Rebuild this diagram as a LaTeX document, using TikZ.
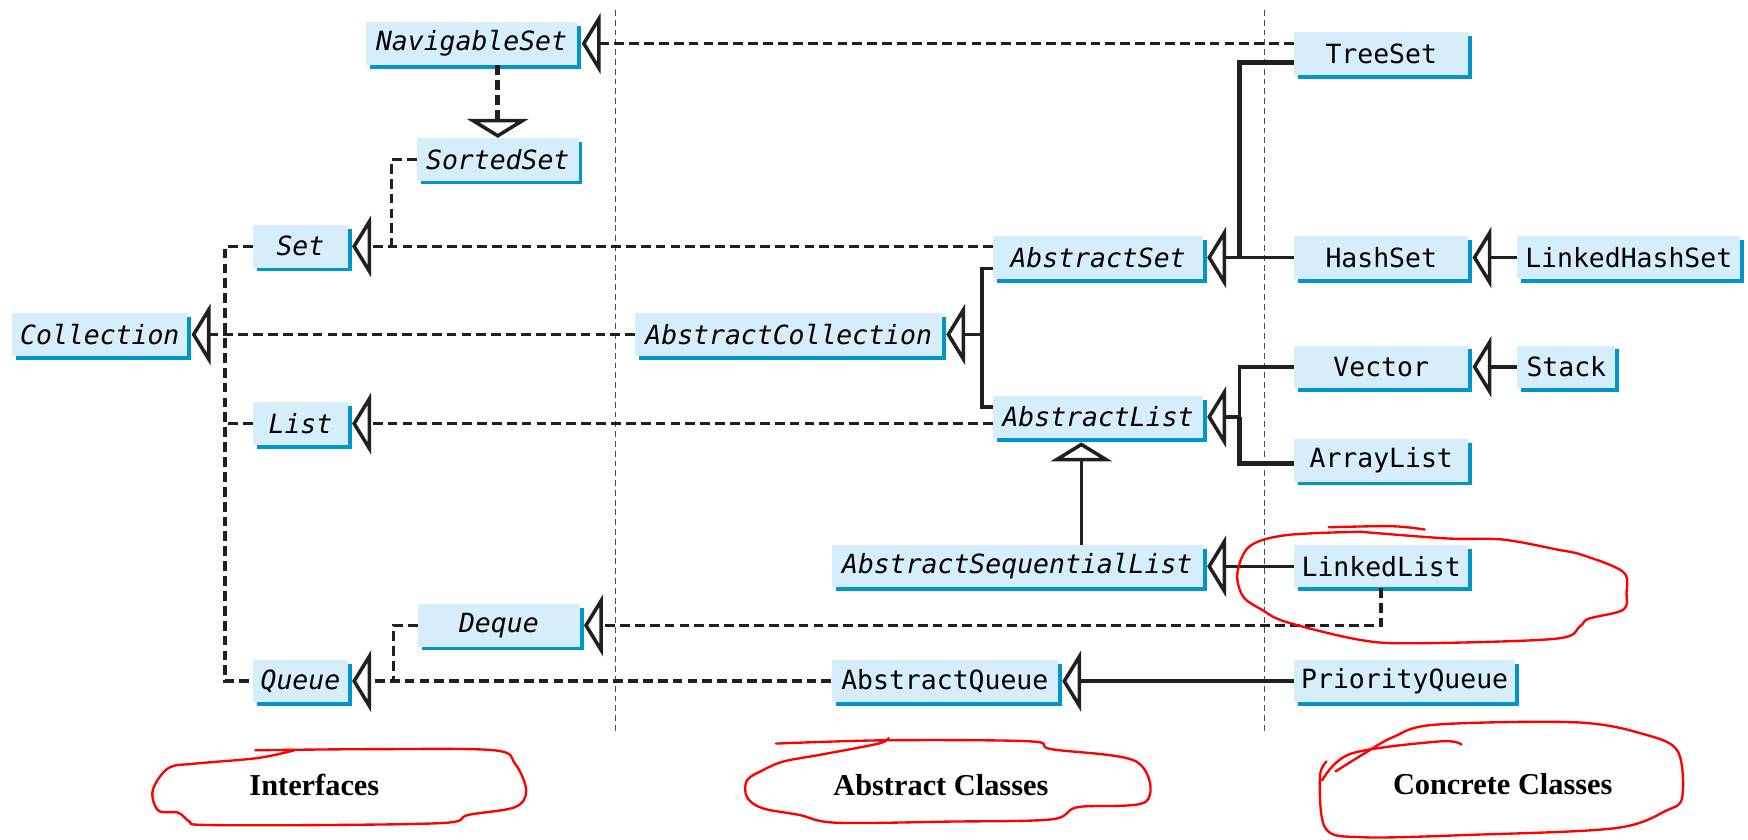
\documentclass[tikz,border=0pt]{standalone}
\usepackage{fontspec}
\usetikzlibrary{arrows.meta,shadows,calc}
\newfontfamily\boxfont{DejaVu Sans Mono}
\newfontfamily\labfont{Liberation Serif}
\definecolor{boxblue}{RGB}{214,238,251}
\definecolor{shadeblue}{RGB}{0,150,204}
\definecolor{lineblack}{RGB}{35,31,32}

\tikzset{
  cls/.style={fill=boxblue, minimum height=0.76cm, inner sep=0pt,
    font=\boxfont\fontsize{13.5}{16}\selectfont,
    drop shadow={shadow xshift=0.07cm, shadow yshift=-0.07cm, opacity=1, fill=shadeblue}},
  ifc/.style={cls, font=\boxfont\fontsize{13.5}{16}\selectfont\itshape},
  dline/.style={draw=lineblack, line width=1.8pt, dash pattern=on 5pt off 2.6pt},
  sline/.style={draw=lineblack, line width=1.8pt},
  tri/.style={-{Triangle[open, length=0.34cm, width=1.1cm, line width=1.8pt]}, shorten >=0.07cm},
  divider/.style={draw=gray!60!black, line width=0.6pt, dash pattern=on 3pt off 2pt},
  lab/.style={font=\labfont\bfseries\fontsize{15.5}{18}\selectfont},
  blob/.style={draw=red, line width=1.2pt, line cap=round, line join=round}
}

\begin{document}
\begin{tikzpicture}[x=0.02cm, y=-0.02cm]
        \useasboundingbox (0,0) rectangle (1568,753);

        % column dividers
        \draw[divider] (552,9) -- (552,658);
        \draw[divider] (1134,9) -- (1134,658);

        % interfaces
        \node[ifc, minimum width=3.8cm] (navset) at (423,39) {NavigableSet};
        \node[ifc, minimum width=2.9cm] (sortedset) at (446.5,143) {SortedSet};
        \node[ifc, minimum width=1.7cm] (set) at (269.5,221) {Set};
        \node[ifc, minimum width=3.14cm] (coll) at (89.5,300) {Collection};
        \node[ifc, minimum width=1.7cm] (list) at (269.5,380) {List};
        \node[ifc, minimum width=2.9cm] (deque) at (447.5,561) {Deque};
        \node[ifc, minimum width=1.7cm] (queue) at (269.5,611) {Queue};

        % abstract classes
        \node[ifc, minimum width=5.5cm] (abscoll) at (707.5,300) {AbstractCollection};
        \node[ifc, minimum width=3.76cm] (absset) at (985,231) {AbstractSet};
        \node[ifc, minimum width=3.76cm] (abslist) at (985,374) {AbstractList};
        \node[ifc, minimum width=6.66cm] (absseq) at (912.5,508) {AbstractSequentialList};
        \node[cls, minimum width=4.06cm] (absqueue) at (847.5,611) {AbstractQueue};

        % concrete classes
        \node[cls, minimum width=3.12cm] (treeset) at (1239,48) {TreeSet};
        \node[cls, minimum width=3.12cm] (hashset) at (1239,231) {HashSet};
        \node[cls, minimum width=4cm] (lhashset) at (1461,231) {LinkedHashSet};
        \node[cls, minimum width=3.12cm] (vector) at (1239,329) {Vector};
        \node[cls, minimum width=1.76cm] (stack) at (1405,329) {Stack};
        \node[cls, minimum width=3.12cm] (arraylist) at (1239,413) {ArrayList};
        \node[cls, minimum width=3.12cm] (linkedlist) at (1239,508) {LinkedList};
        \node[cls, minimum width=3.96cm] (pqueue) at (1260,611) {PriorityQueue};

        % junction points
        \coordinate (sjoin) at (351,221);
        \coordinate (ctop) at (202,221);
        \coordinate (cbot) at (202,611);
        \coordinate (qjoin) at (353,611);
        \coordinate (acjoin) at (881,300);
        \coordinate (setjoin) at (1112,231);
        \coordinate (listjoin) at (1112,374);
        \coordinate (seqx) at (970,0);

        % dashed: implements / extends interface
        \draw[dline, line width=2.4pt, tri, shorten >=0pt] (navset.south -| sortedset.north) -- (sortedset.north);
        \draw[dline, tri] (treeset.west |- navset.east) -- (navset.east);
        \draw[dline, tri] (absset.west |- set.east) -- (set.east);
        \draw[dline] (sortedset.west) -| (sjoin);
        \draw[dline] (set.west) -- (ctop) -- (cbot) -- (queue.west);
        \draw[dline] (list.west) -- (list.west -| ctop);
        \draw[dline, tri] (abscoll.west) -- (coll.east);
        \draw[dline, tri] (abslist.west |- list.east) -- (list.east);
        \draw[dline] (deque.west) -| (qjoin);
        \draw[dline, tri] (absqueue.west) -- (queue.east);
        \draw[dline, tri] (linkedlist.south) |- (deque.east);

        % solid: extends class
        \draw[sline, tri] (acjoin) -- (abscoll.east);
        \draw[sline] ($(absset.west)+(0,10)$) -| (acjoin) |- ($(abslist.west)+(0,-9)$);
        \draw[sline, tri] (hashset.west) -- (absset.east);
        \draw[sline, line width=2.4pt] ($(treeset.west)+(0,8)$) -| (setjoin);
        \draw[sline, tri] (listjoin) -- (abslist.east);
        \draw[sline] (vector.west) -| (listjoin);
        \draw[sline, line width=2.4pt] (listjoin) |- ($(arraylist.west)+(0,3)$);
        \draw[sline, tri] (lhashset.west) -- (hashset.east);
        \draw[sline, tri] (stack.west) -- (vector.east);
        \draw[sline, tri] (linkedlist.west) -- (absseq.east);
        \draw[sline, tri] (pqueue.west) -- (absqueue.east);
        \draw[sline, tri] (absseq.north -| seqx) -- (abslist.south -| seqx);

        % column titles
        \node[lab] (intf) at (282,704) {Interfaces};
        \node[lab] (absc) at (844,704) {Abstract Classes};
        \node[lab] (conc) at (1348,703) {Concrete Classes};

        % red hand marks
        \draw[blob] plot[smooth, tension=0.55] coordinates {(229,673) (336,672) (443,673) (462,685) (472,709) (462,724) (420,731) (401,738) (300,740) (184,740) (170,737) (160,729) (142,727) (137,709) (151,689) (175,685) (231,680) (264,673)};
        \draw[blob] plot[smooth, tension=0.55] coordinates {(696,667) (797,664) (924,665) (943,672) (1019,683) (1028,719) (967,724) (943,735) (850,737) (750,738) (717,731) (684,725) (670,715) (670,700) (684,691) (703,683) (736,677) (788,667) (797,662)};
        \draw[blob] plot[smooth, tension=0.55] coordinates {(1198,692) (1222,677) (1250,661) (1288,650) (1415,648) (1476,659) (1505,674) (1509,715) (1495,727) (1448,743) (1316,749) (1222,751) (1189,743) (1184,697) (1190,683)};
        \draw[blob] plot[smooth, tension=0.55] coordinates {(1186,700) (1212,676) (1292,665) (1311,668)};
        \draw[blob] plot[smooth, tension=0.55] coordinates {(1220,477) (1298,483) (1348,484) (1397,493) (1420,498) (1456,513) (1459,532) (1456,547) (1425,555) (1417,562) (1395,573) (1270,577) (1220,574) (1154,558) (1132,547) (1115,535) (1110,514) (1121,490) (1154,480) (1220,477)};
        \draw[blob] plot[smooth, tension=0.55] coordinates {(1192,473) (1248,472) (1278,475)};
\end{tikzpicture}
\end{document}
